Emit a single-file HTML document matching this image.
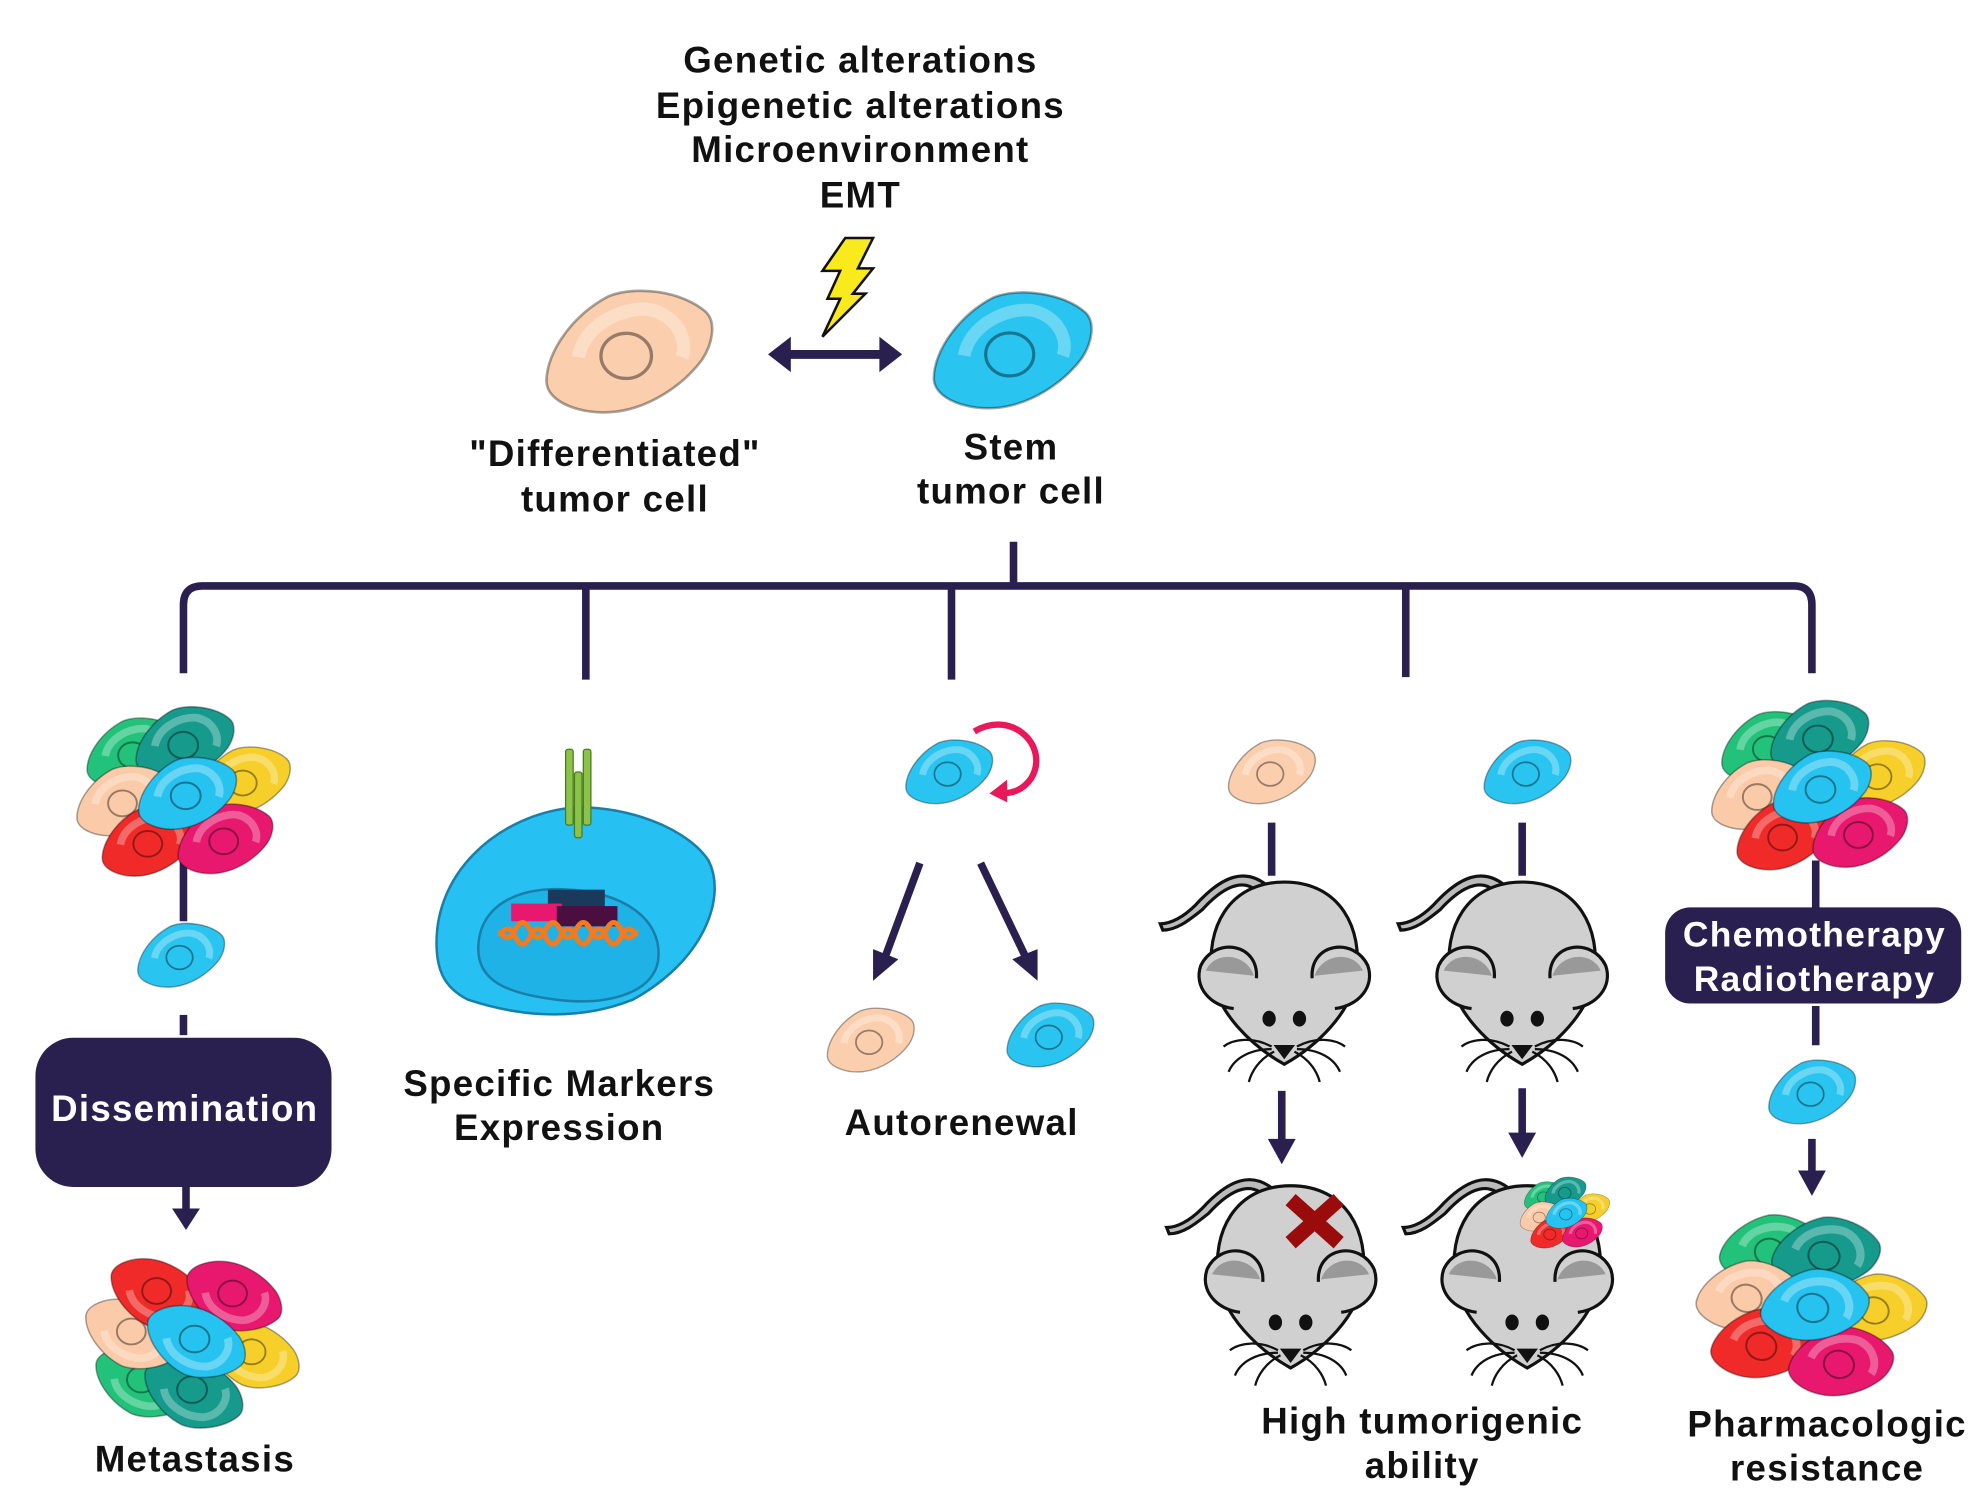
<!DOCTYPE html>
<html><head><meta charset="utf-8"><style>
html,body{margin:0;padding:0;background:#fff}
svg{display:block}
text{font-family:"Liberation Sans",sans-serif;font-weight:bold;fill:#111;text-anchor:middle;letter-spacing:1px}
</style></head><body>
<svg width="1984" height="1506" viewBox="0 0 1568 1190" xmlns="http://www.w3.org/2000/svg">
<defs>
<g id="cell">
<path d="M-62,22 C-62,0 -42,-28 -15,-42 C5,-50 40,-46 58,-30 C66,-22 63,-6 55,6 C40,26 15,42 -10,45 C-35,48 -62,38 -62,22Z" fill="currentColor" stroke="rgba(0,0,0,0.35)" stroke-width="2"/>
<path d="M-38,4 C-34,-20 -5,-34 15,-32 C35,-28 45,-10 40,4" fill="none" stroke="#fff" stroke-opacity="0.3" stroke-width="10"/>
<ellipse cx="-2" cy="3" rx="19" ry="17" fill="currentColor" stroke="rgba(0,0,0,0.4)" stroke-width="2.5"/>
</g>
<g id="cluster">
<use href="#cell" transform="translate(-42,-30) scale(0.6)" style="color:#22c27a"/>
<use href="#cell" transform="translate(-2,-38) scale(0.62)" style="color:#159a8c"/>
<use href="#cell" transform="translate(45,-8) scale(0.58)" style="color:#f7cf2a"/>
<use href="#cell" transform="translate(-50,8) scale(0.6)" style="color:#fbcaa8"/>
<use href="#cell" transform="translate(-30,40) scale(0.6)" style="color:#f02a28"/>
<use href="#cell" transform="translate(30,38) scale(0.6)" style="color:#e8186e"/>
<use href="#cell" transform="translate(0,2) scale(0.62)" style="color:#27c3f0"/>
</g>
<g id="mouse" stroke="#111" stroke-width="2.5">
<path d="M-10,-72 C-30,-92 -50,-82 -70,-60 C-80,-50 -90,-45 -98,-45 L-96,-40 C-85,-40 -75,-48 -65,-56 C-45,-78 -28,-82 -18,-66Z" fill="#bbb"/>
<path d="M0,-78 C45,-78 62,-40 57,-5 C54,25 25,52 0,66 C-25,52 -54,25 -57,-5 C-62,-40 -45,-78 0,-78Z" fill="#d0d0d0"/>
<path d="M-22,-2 C-20,-30 -55,-35 -66,-12 C-72,5 -58,20 -40,22" fill="#d0d0d0"/>
<path d="M-24,-4 C-30,-22 -55,-24 -62,-8" fill="#999" stroke="none"/>
<path d="M22,-2 C20,-30 55,-35 66,-12 C72,5 58,20 40,22" fill="#d0d0d0"/>
<path d="M24,-4 C30,-22 55,-24 62,-8" fill="#999" stroke="none"/>
<ellipse cx="-12" cy="30" rx="4" ry="5" fill="#111"/>
<ellipse cx="12" cy="30" rx="4" ry="5" fill="#111"/>
<path d="M-6,52 L6,52 L0,60Z" fill="#111"/>
<path d="M-10,52 C-25,44 -40,46 -48,52 M-10,54 C-28,54 -40,62 -44,72 M-8,56 C-20,62 -26,72 -28,80 M10,52 C25,44 40,46 48,52 M10,54 C28,54 40,62 44,72 M8,56 C20,62 26,72 28,80" fill="none" stroke-width="1.8"/>
</g>
</defs>

<g font-size="29">
<text x="680" y="57">Genetic alterations</text>
<text x="680" y="93">Epigenetic alterations</text>
<text x="680" y="128">Microenvironment</text>
<text x="680" y="164">EMT</text>
<text x="486" y="368">"Differentiated"</text>
<text x="486" y="404">tumor cell</text>
<text x="799" y="363">Stem</text>
<text x="799" y="398">tumor cell</text>
<text x="442" y="866">Specific Markers</text>
<text x="442" y="901">Expression</text>
<text x="760" y="897">Autorenewal</text>
<text x="154" y="1163">Metastasis</text>
<text x="1124" y="1133">High tumorigenic</text>
<text x="1124" y="1168">ability</text>
<text x="1444" y="1135">Pharmacologic</text>
<text x="1444" y="1170">resistance</text>
</g>

<path d="M668,188 L690,188 L678,212 L690,212 L674,232 L684,232 L650,266 L664,236 L654,236 L664,214 L650,214Z" fill="#f8ea1c" stroke="#111" stroke-width="2"/>

<use href="#cell" transform="translate(497,278) scale(1.05)" style="color:#fbcfae"/>
<use href="#cell" transform="translate(800,277) scale(1)" style="color:#29c4f0"/>
<line x1="620" y1="280" x2="700" y2="280" stroke="#2a2050" stroke-width="7"/>
<path d="M607,280 L625,266 L625,294Z M713,280 L695,266 L695,294Z" fill="#2a2050"/>

<g stroke="#2a2050" stroke-width="6" fill="none">
<line x1="801" y1="428" x2="801" y2="463"/>
<path d="M145,532 L145,478 Q145,463 160,463 L1418,463 Q1432,463 1432,478 L1432,532"/>
<line x1="463" y1="463" x2="463" y2="537"/>
<line x1="752" y1="463" x2="752" y2="537"/>
<line x1="1111" y1="463" x2="1111" y2="535"/>
<line x1="145" y1="680" x2="145" y2="728"/>
<line x1="145" y1="802" x2="145" y2="818"/>
<line x1="147" y1="938" x2="147" y2="958"/>
<line x1="1005" y1="650" x2="1005" y2="692"/>
<line x1="1203" y1="650" x2="1203" y2="692"/>
<line x1="1013" y1="862" x2="1013" y2="905"/>
<line x1="1203" y1="860" x2="1203" y2="900"/>
<line x1="1435" y1="680" x2="1435" y2="718"/>
<line x1="1435" y1="795" x2="1435" y2="826"/>
<line x1="1432" y1="900" x2="1432" y2="930"/>
<line x1="727" y1="682" x2="700" y2="755"/>
<line x1="775" y1="682" x2="810" y2="755"/>
</g>
<g fill="#2a2050">
<path d="M136,955 L158,955 L147,972Z"/>
<path d="M1002,900 L1024,900 L1013,920Z"/>
<path d="M1192,895 L1214,895 L1203,915Z"/>
<path d="M1421,925 L1443,925 L1432,945Z"/>
<path d="M690,775 L690,750 L710,758Z"/>
<path d="M820,775 L800,758 L820,750Z"/>
</g>

<use href="#cluster" transform="translate(148,625)"/>
<use href="#cell" transform="translate(143,755) scale(0.55)" style="color:#29c4f0"/>
<rect x="28" y="820" width="234" height="118" rx="30" fill="#2a2050"/>
<text x="146" y="886" font-size="29" style="fill:#fff">Dissemination</text>
<use href="#cluster" transform="translate(155,1062) rotate(180) scale(-1,1)"/>

<g>
<path d="M345,745 C345,690 390,650 440,640 C480,632 540,650 560,680 C575,710 555,760 500,790 C450,810 400,800 370,790 C350,780 345,765 345,745Z" fill="#27c0f2" stroke="#1a7fa8" stroke-width="2"/>
<path d="M378,750 C378,715 410,700 450,703 C490,705 525,725 520,760 C515,785 480,795 440,790 C400,785 378,775 378,750Z" fill="#1fb2e6" stroke="#1a7fa8" stroke-width="2"/>
<rect x="447" y="592" width="6" height="60" rx="2" fill="#8ac24a" stroke="#4a7a20"/>
<rect x="461" y="592" width="6" height="60" rx="2" fill="#8ac24a" stroke="#4a7a20"/>
<rect x="454" y="610" width="6" height="52" rx="2" fill="#8ac24a" stroke="#4a7a20"/>
<rect x="433" y="703" width="45" height="14" fill="#1a3a5c"/>
<rect x="404" y="714" width="40" height="14" fill="#e8186e"/>
<rect x="440" y="716" width="48" height="16" fill="#4a0e40"/>
<path d="M395,740 q6,-12 12,0 t12,0 t12,0 t12,0 t12,0 t12,0 t12,0 t12,0 t12,0" fill="none" stroke="#f47a20" stroke-width="4"/>
<path d="M395,735 q6,12 12,0 t12,0 t12,0 t12,0 t12,0 t12,0 t12,0 t12,0 t12,0" fill="none" stroke="#f47a20" stroke-width="4"/>
</g>

<use href="#cell" transform="translate(750,610) scale(0.55)" style="color:#29c4f0"/>
<path d="M770,578 C800,560 830,590 815,615 C808,625 798,628 790,626" fill="none" stroke="#e8185a" stroke-width="5"/>
<path d="M782,627 L796,616 L796,634Z" fill="#e8185a"/>
<use href="#cell" transform="translate(688,822) scale(0.55)" style="color:#fbcfae"/>
<use href="#cell" transform="translate(830,818) scale(0.55)" style="color:#29c4f0"/>

<use href="#cell" transform="translate(1005,610) scale(0.55)" style="color:#fbcfae"/>
<use href="#cell" transform="translate(1207,610) scale(0.55)" style="color:#29c4f0"/>
<use href="#mouse" transform="translate(1015,775)"/>
<use href="#mouse" transform="translate(1203,775)"/>
<use href="#mouse" transform="translate(1020,1015)"/>
<use href="#mouse" transform="translate(1207,1015)"/>
<path d="M1020,948 L1058,982 M1058,948 L1020,982" stroke="#9a0c0c" stroke-width="12"/>
<use href="#cluster" transform="translate(1238,958) scale(0.42)"/>

<use href="#cluster" transform="translate(1440,620)"/>
<rect x="1316" y="717" width="234" height="76" rx="20" fill="#2a2050"/>
<text x="1434" y="748" font-size="28" style="fill:#fff">Chemotherapy</text>
<text x="1434" y="783" font-size="28" style="fill:#fff">Radiotherapy</text>
<use href="#cell" transform="translate(1432,863) scale(0.55)" style="color:#29c4f0"/>
<use href="#cluster" transform="translate(1435,1030) scale(1.05) rotate(15)"/>
</svg>
</body></html>
